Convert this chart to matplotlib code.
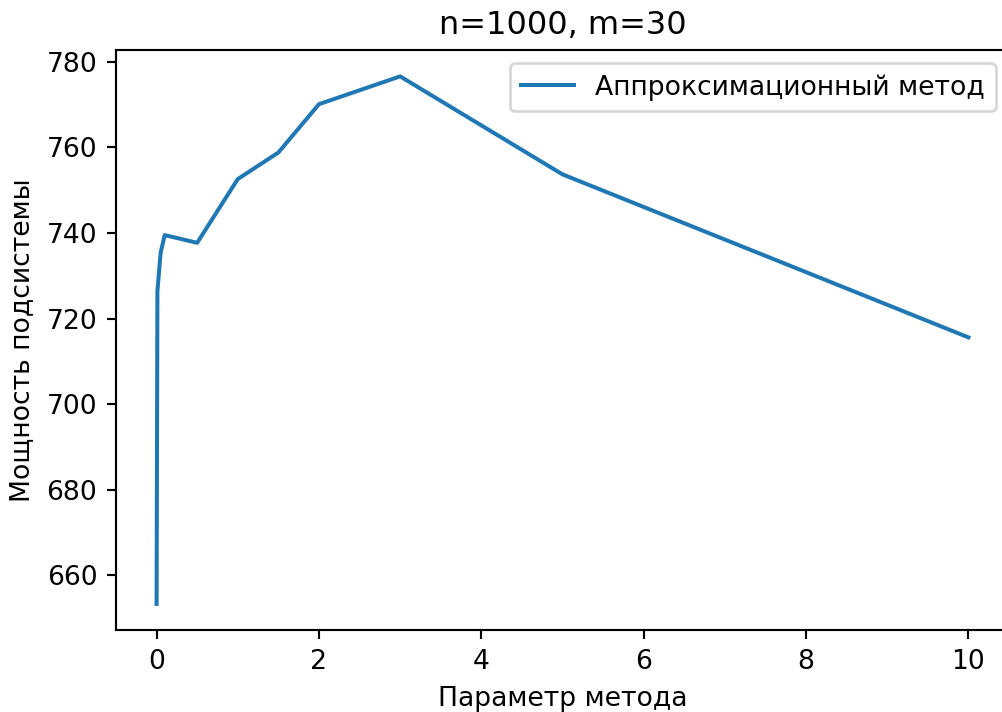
import matplotlib
matplotlib.use("Agg")
import matplotlib.pyplot as plt

# Method parameter values and resulting subsystem power
params = [0, 0.01, 0.05, 0.1, 0.5, 1, 1.5, 2, 3, 5, 10]
power = [653.3, 726.4, 735.4, 739.5, 737.7, 752.6, 758.8, 770.1, 776.6, 753.7, 715.6]

DPI = 192
fig = plt.figure(figsize=(1002 / DPI, 712 / DPI), dpi=DPI)
# axes run slightly past the right edge of the canvas
ax = fig.add_axes([116 / 1002, (712 - 630.3) / 712, 893 / 1002, 580.3 / 712])

ax.plot(params, power, label="Аппроксимационный метод")
ax.set_title("n=1000, m=30")
ax.set_xlabel("Параметр метода")
ax.set_ylabel("Мощность подсистемы")
ax.legend(loc="upper right")

fig.savefig("out.png", dpi=DPI)
